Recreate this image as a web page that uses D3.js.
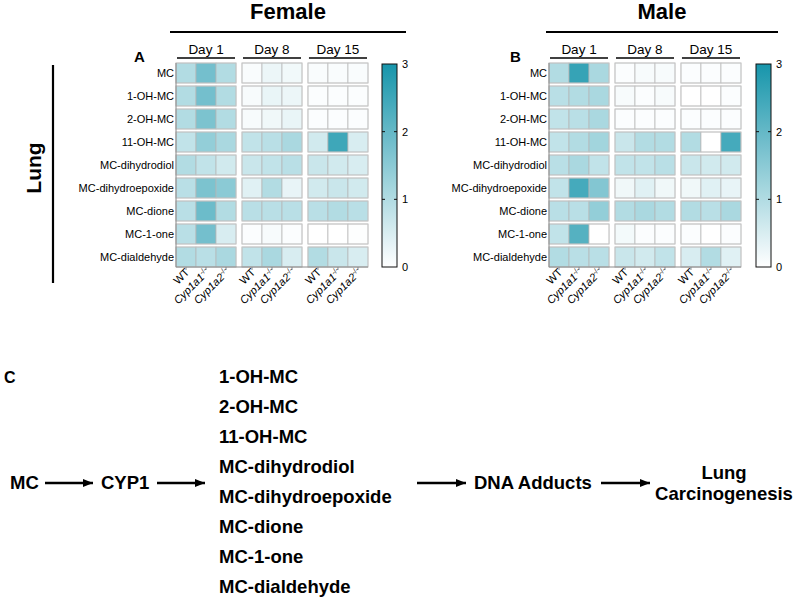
<!DOCTYPE html>
<html>
<head>
<meta charset="utf-8">
<script src="https://cdn.jsdelivr.net/npm/d3@7"></script>
<style>
  html, body { margin: 0; padding: 0; background: #fff; }
  svg { display: block; font-family: "Liberation Sans", Arial, sans-serif; }
</style>
</head>
<body>
<svg id="chart" width="800" height="599"></svg>
<script>
// ---------------- DATA ----------------
const metabolites = ["MC", "1-OH-MC", "2-OH-MC", "11-OH-MC", "MC-dihydrodiol",
  "MC-dihydroepoxide", "MC-dione", "MC-1-one", "MC-dialdehyde"];
const days = ["Day 1", "Day 8", "Day 15"];
const genotypes = ["WT", "Cyp1a1", "Cyp1a2"];
const colorTicks = [0, 1, 2, 3];

// values per metabolite: [D1 WT, D1 a1, D1 a2, D8 WT, D8 a1, D8 a2, D15 WT, D15 a1, D15 a2]
const femaleValues = [
  [1.0, 1.8, 1.0, 0.08, 0.25, 0.18, 0.08, 0.08, 0.08],
  [1.0, 1.8, 1.0, 0.1, 0.28, 0.25, 0.05, 0.05, 0.05],
  [1.0, 1.7, 1.0, 0.1, 0.2, 0.28, 0.05, 0.05, 0.05],
  [0.8, 1.4, 1.1, 0.8, 0.9, 1.1, 0.6, 2.5, 0.5],
  [1.0, 0.8, 0.6, 0.7, 0.8, 0.9, 0.7, 0.6, 0.5],
  [0.9, 1.7, 1.5, 0.4, 1.0, 0.3, 0.6, 0.7, 0.6],
  [0.9, 1.9, 1.0, 0.9, 0.9, 0.9, 0.9, 1.0, 0.9],
  [0.9, 1.8, 0.5, 0.05, 0.1, 0.05, 0.0, 0.0, 0.02],
  [1.0, 0.9, 1.1, 0.8, 1.1, 0.5, 1.0, 0.7, 0.5]
];
const maleValues = [
  [1.0, 2.6, 1.1, 0.05, 0.1, 0.1, 0.05, 0.05, 0.05],
  [0.9, 1.0, 1.1, 0.1, 0.05, 0.1, 0.0, 0.0, 0.05],
  [0.8, 0.9, 1.1, 0.05, 0.05, 0.05, 0.05, 0.05, 0.05],
  [0.8, 1.0, 1.2, 0.7, 1.0, 1.0, 1.0, 0.0, 2.4],
  [0.9, 1.1, 0.8, 0.8, 0.8, 0.9, 0.7, 0.6, 0.6],
  [0.8, 2.4, 1.6, 0.2, 0.4, 0.2, 0.2, 0.4, 0.3],
  [0.9, 0.9, 1.4, 1.0, 1.1, 1.0, 1.0, 0.9, 1.1],
  [0.8, 2.2, 0.0, 0.15, 0.05, 0.05, 0.05, 0.0, 0.05],
  [1.0, 0.9, 0.9, 0.7, 0.6, 0.8, 0.5, 1.0, 0.4]
];

const pathwayProducts = ["1-OH-MC", "2-OH-MC", "11-OH-MC", "MC-dihydrodiol",
  "MC-dihydroepoxide", "MC-dione", "MC-1-one", "MC-dialdehyde"];

// ---------------- DRAWING ----------------
const svg = d3.select("#chart");
const color = d3.scaleLinear().domain([0, 3]).range(["#ffffff", "#1795ab"]);

const defs = svg.append("defs");
const grad = defs.append("linearGradient").attr("id", "cbgrad")
  .attr("x1", 0).attr("y1", 1).attr("x2", 0).attr("y2", 0);
d3.range(0, 1.0001, 0.1).forEach(t => {
  grad.append("stop").attr("offset", t).attr("stop-color", color(t * 3));
});

const rowTop = 63, rowBottom = 267;

function drawPanel(cfg) {
  const g = svg.append("g");
  const y = d3.scaleBand().domain(metabolites).range([rowTop, rowBottom]).paddingInner(0.13);
  const xDay = d3.scaleBand().domain(days).range([cfg.x0, cfg.x1]).paddingInner(0.09);
  const xGen = d3.scaleBand().domain(genotypes).range([0, xDay.bandwidth()]);

  g.append("text").attr("x", cfg.titleX).attr("y", 19).attr("text-anchor", "middle")
    .attr("font-size", 22).attr("font-weight", "bold").text(cfg.title);
  g.append("line").attr("x1", cfg.lineX0).attr("x2", cfg.lineX1)
    .attr("y1", 32).attr("y2", 32).attr("stroke", "#000").attr("stroke-width", 2.2);

  g.append("text").attr("x", cfg.letterX).attr("y", 62).attr("font-size", 15)
    .attr("font-weight", "bold").text(cfg.letter);

  days.forEach(d => {
    const cx = xDay(d) + xDay.bandwidth() / 2;
    g.append("text").attr("x", cx).attr("y", 54).attr("text-anchor", "middle")
      .attr("font-size", 13.5).text(d);
    g.append("line").attr("x1", xDay(d) + 1).attr("x2", xDay(d) + xDay.bandwidth() - 1)
      .attr("y1", 58).attr("y2", 58).attr("stroke", "#000").attr("stroke-width", 1.5);
  });

  const cells = [];
  metabolites.forEach((m, i) => {
    days.forEach((d, j) => {
      genotypes.forEach((gt, k) => {
        cells.push({ m, d, gt, v: cfg.values[i][j * 3 + k] });
      });
    });
  });
  g.selectAll("rect.cell").data(cells).join("rect").attr("class", "cell")
    .attr("x", c => xDay(c.d) + xGen(c.gt))
    .attr("y", c => y(c.m))
    .attr("width", xGen.bandwidth())
    .attr("height", y.bandwidth())
    .attr("fill", c => color(c.v))
    .attr("stroke", "#b4b4b4").attr("stroke-width", 0.7);

  metabolites.forEach(m => {
    days.forEach(d => {
      g.append("rect").attr("x", xDay(d)).attr("y", y(m))
        .attr("width", xDay.bandwidth()).attr("height", y.bandwidth())
        .attr("fill", "none").attr("stroke", "#c8c8c8").attr("stroke-width", 0.8);
    });
  });

  g.append("line").attr("x1", cfg.x0).attr("x2", cfg.x0).attr("y1", rowTop).attr("y2", rowBottom)
    .attr("stroke", "#8a8a8a").attr("stroke-width", 1);
  g.append("line").attr("x1", cfg.x0).attr("x2", cfg.x1).attr("y1", rowBottom).attr("y2", rowBottom)
    .attr("stroke", "#8a8a8a").attr("stroke-width", 1);

  metabolites.forEach(m => {
    g.append("text").attr("x", cfg.x0 - 2).attr("y", y(m) + y.bandwidth() / 2)
      .attr("dy", "0.35em").attr("text-anchor", "end").attr("font-size", 11).text(m);
  });

  days.forEach(d => {
    genotypes.forEach(gt => {
      const cx = xDay(d) + xGen(gt) + xGen.bandwidth() / 2;
      g.append("line").attr("x1", cx).attr("x2", cx).attr("y1", rowBottom).attr("y2", rowBottom + 3)
        .attr("stroke", "#8a8a8a");
      const t = g.append("text")
        .attr("transform", `translate(${cx + 4},${rowBottom + 6}) rotate(-45)`)
        .attr("text-anchor", "end").attr("font-size", 11);
      if (gt === "WT") {
        t.text("WT");
      } else {
        t.append("tspan").attr("font-style", "italic").text(gt);
        t.append("tspan").attr("font-size", 7.5).attr("dy", -4).text("-/-");
      }
    });
  });

  const cbY = d3.scaleLinear().domain([0, 3]).range([rowBottom, rowTop + 1]);
  g.append("rect").attr("x", cfg.cbX).attr("y", cbY(3)).attr("width", 15)
    .attr("height", cbY(0) - cbY(3)).attr("fill", "url(#cbgrad)")
    .attr("stroke", "#111").attr("stroke-width", 1);
  colorTicks.forEach(v => {
    if (v > 0 && v < 3) {
      g.append("line").attr("x1", cfg.cbX).attr("x2", cfg.cbX + 3)
        .attr("y1", cbY(v)).attr("y2", cbY(v)).attr("stroke", "#111");
      g.append("line").attr("x1", cfg.cbX + 12).attr("x2", cfg.cbX + 15)
        .attr("y1", cbY(v)).attr("y2", cbY(v)).attr("stroke", "#111");
    }
    g.append("text").attr("x", cfg.cbX + 20).attr("y", cbY(v)).attr("dy", "0.35em")
      .attr("font-size", 11).text(v);
  });
}

drawPanel({ x0: 176, x1: 368, values: femaleValues, title: "Female", titleX: 288,
  lineX0: 170, lineX1: 406, letter: "A", letterX: 134, cbX: 382 });
drawPanel({ x0: 549, x1: 741, values: maleValues, title: "Male", titleX: 662,
  lineX0: 546, lineX1: 778, letter: "B", letterX: 510, cbX: 756 });

svg.append("text").attr("transform", "translate(41,168) rotate(-90)")
  .attr("text-anchor", "middle").attr("font-size", 21).attr("font-weight", "bold").text("Lung");
svg.append("line").attr("x1", 53).attr("x2", 53).attr("y1", 65).attr("y2", 283)
  .attr("stroke", "#000").attr("stroke-width", 2.2);

// ---------------- PATHWAY (panel C) ----------------
const pw = svg.append("g").attr("font-size", 18.5).attr("font-weight", "bold");
defs.append("marker").attr("id", "ah").attr("viewBox", "0 0 10 10")
  .attr("refX", 10).attr("refY", 5).attr("markerWidth", 10).attr("markerHeight", 10)
  .attr("markerUnits", "userSpaceOnUse").attr("orient", "auto")
  .append("path").attr("d", "M0,1 L10,5 L0,9 Z").attr("fill", "#000");

const listY = d3.scalePoint().domain(pathwayProducts).range([377, 587]);
const midY = (listY("MC-dihydrodiol") + listY("MC-dihydroepoxide")) / 2 + 1;

pw.append("text").attr("x", 4).attr("y", listY(pathwayProducts[0])).attr("dy", "0.35em")
  .attr("font-size", 16).text("C");

pathwayProducts.forEach(p => {
  pw.append("text").attr("x", 219).attr("y", listY(p)).attr("dy", "0.35em").text(p);
});

pw.append("text").attr("x", 10).attr("y", midY).attr("dy", "0.35em").text("MC");
pw.append("text").attr("x", 101).attr("y", midY).attr("dy", "0.35em").text("CYP1");
pw.append("text").attr("x", 474).attr("y", midY).attr("dy", "0.35em").text("DNA Adducts");
pw.append("text").attr("x", 724).attr("y", midY - 10.5).attr("dy", "0.35em")
  .attr("text-anchor", "middle").text("Lung");
pw.append("text").attr("x", 724).attr("y", midY + 10.5).attr("dy", "0.35em")
  .attr("text-anchor", "middle").text("Carcinogenesis");

[[45, 93], [157, 205], [417, 466], [601, 650]].forEach(([a, b]) => {
  pw.append("line").attr("x1", a).attr("x2", b).attr("y1", midY).attr("y2", midY)
    .attr("stroke", "#000").attr("stroke-width", 2.4).attr("marker-end", "url(#ah)");
});
</script>
</body>
</html>
